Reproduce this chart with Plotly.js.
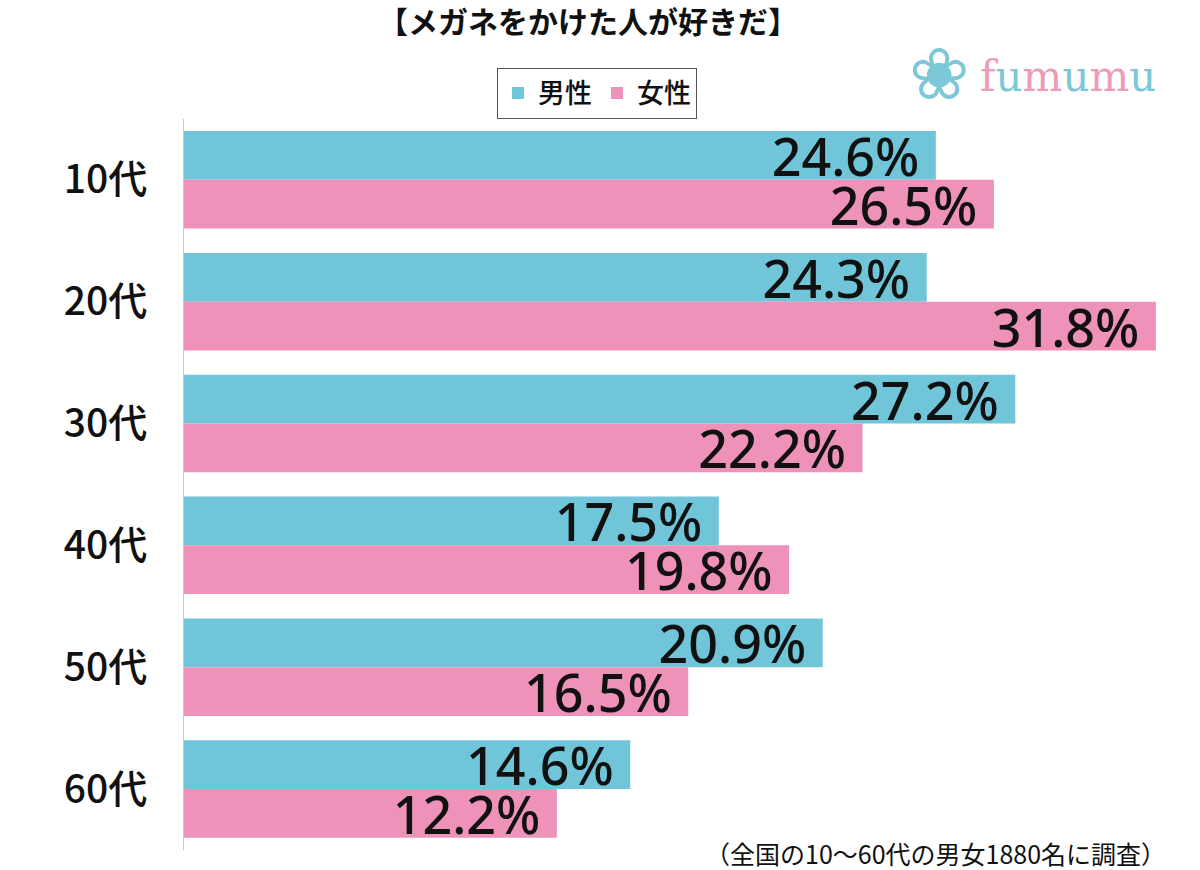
<!DOCTYPE html>
<html>
<head>
<meta charset="utf-8">
<script src="https://cdn.plot.ly/plotly-3.0.1.min.js"></script>
<style>
  body { margin: 0; background: #fff; }
  #chart { width: 1200px; height: 870px; }
</style>
</head>
<body>
<div id="chart"></div>
<script>
// age groups and answers (%)
const ages = ['10代', '20代', '30代', '40代', '50代', '60代'];
const male = [24.6, 24.3, 27.2, 17.5, 20.9, 14.6];
const female = [26.5, 31.8, 22.2, 19.8, 16.5, 12.2];

const labelFont = {family: 'Noto Sans, Roboto, sans-serif', size: 52, weight: 500, color: '#111'};

function pct(arr) {
  // trailing nbsp keeps the label off the bar end
  return arr.map(v => v.toFixed(1) + '%\u00a0');
}

let trace1 = {
  y: ages,
  x: male,
  name: '男性',
  type: 'bar',
  orientation: 'h',
  text: pct(male),
  textposition: 'inside',
  insidetextanchor: 'end',
  textangle: 0,
  constraintext: 'none',
  textfont: labelFont,
  marker: {color: '#70C5D9'},
  hoverinfo: 'none'
};

let trace2 = {
  y: ages,
  x: female,
  name: '女性',
  type: 'bar',
  orientation: 'h',
  text: pct(female),
  textposition: 'inside',
  insidetextanchor: 'end',
  textangle: 0,
  constraintext: 'none',
  textfont: labelFont,
  marker: {color: '#EE92B9'},
  hoverinfo: 'none'
};

let layout = {
  width: 1200,
  height: 870,
  margin: {l: 184, r: 38, t: 118, b: 20},
  paper_bgcolor: '#fff',
  plot_bgcolor: '#fff',
  font: {family: 'Noto Sans CJK JP, Noto Sans, sans-serif', color: '#111'},
  barmode: 'group',
  bargap: 0.2,
  bargroupgap: 0,
  showlegend: true,
  title: {
    text: '<b>【メガネをかけた人が好きだ】</b>',
    font: {family: 'Noto Sans CJK JP', size: 30, color: '#111'},
    x: 0.49, xanchor: 'center',
    y: 0.974, yanchor: 'middle'
  },
  legend: {
    orientation: 'h',
    xref: 'container', yref: 'container',
    x: 0.4975, xanchor: 'center',
    y: 0.922, yanchor: 'top',
    bordercolor: '#555', borderwidth: 1,
    font: {family: 'Noto Sans CJK JP', size: 27, weight: 500, color: '#111'},
    itemwidth: 30,
    tracegroupgap: 0
  },
  xaxis: {
    range: [0, 32],
    visible: false,
    showgrid: false,
    zeroline: false
  },
  yaxis: {
    autorange: 'reversed',
    showline: true,
    linecolor: '#cccccc',
    linewidth: 1,
    ticks: '',
    ticklabelstandoff: 28,
    tickfont: {family: 'Noto Sans CJK JP', size: 39, weight: 500, color: '#111'},
    showgrid: false,
    zeroline: false
  },
  annotations: [
    {
      xref: 'paper', yref: 'paper',
      x: 1.006, y: -0.004,
      xanchor: 'right', yanchor: 'middle',
      text: '（全国の10～60代の男女1880名に調査）',
      showarrow: false,
      font: {family: 'Noto Sans CJK JP', size: 25, color: '#111'}
    },
    {
      xref: 'paper', yref: 'paper',
      x: 0.772, y: 1.062,
      xanchor: 'center', yanchor: 'middle',
      text: '❀',
      showarrow: false,
      font: {family: 'DejaVu Sans', size: 72, color: '#7CC8D6'}
    },
    {
      xref: 'paper', yref: 'paper',
      x: 0.812, y: 1.058,
      xanchor: 'left', yanchor: 'middle',
      text: '<span style="color:#EE9BBB">f</span><span style="color:#7CC8D6">u</span><span style="color:#EE9BBB">m</span><span style="color:#7CC8D6">u</span><span style="color:#EE9BBB">m</span><span style="color:#7CC8D6">u</span>',
      showarrow: false,
      font: {family: 'DejaVu Serif', size: 42, color: '#EE9BBB'}
    }
  ]
};

Plotly.newPlot('chart', [trace1, trace2], layout, {displayModeBar: false});
</script>
</body>
</html>
